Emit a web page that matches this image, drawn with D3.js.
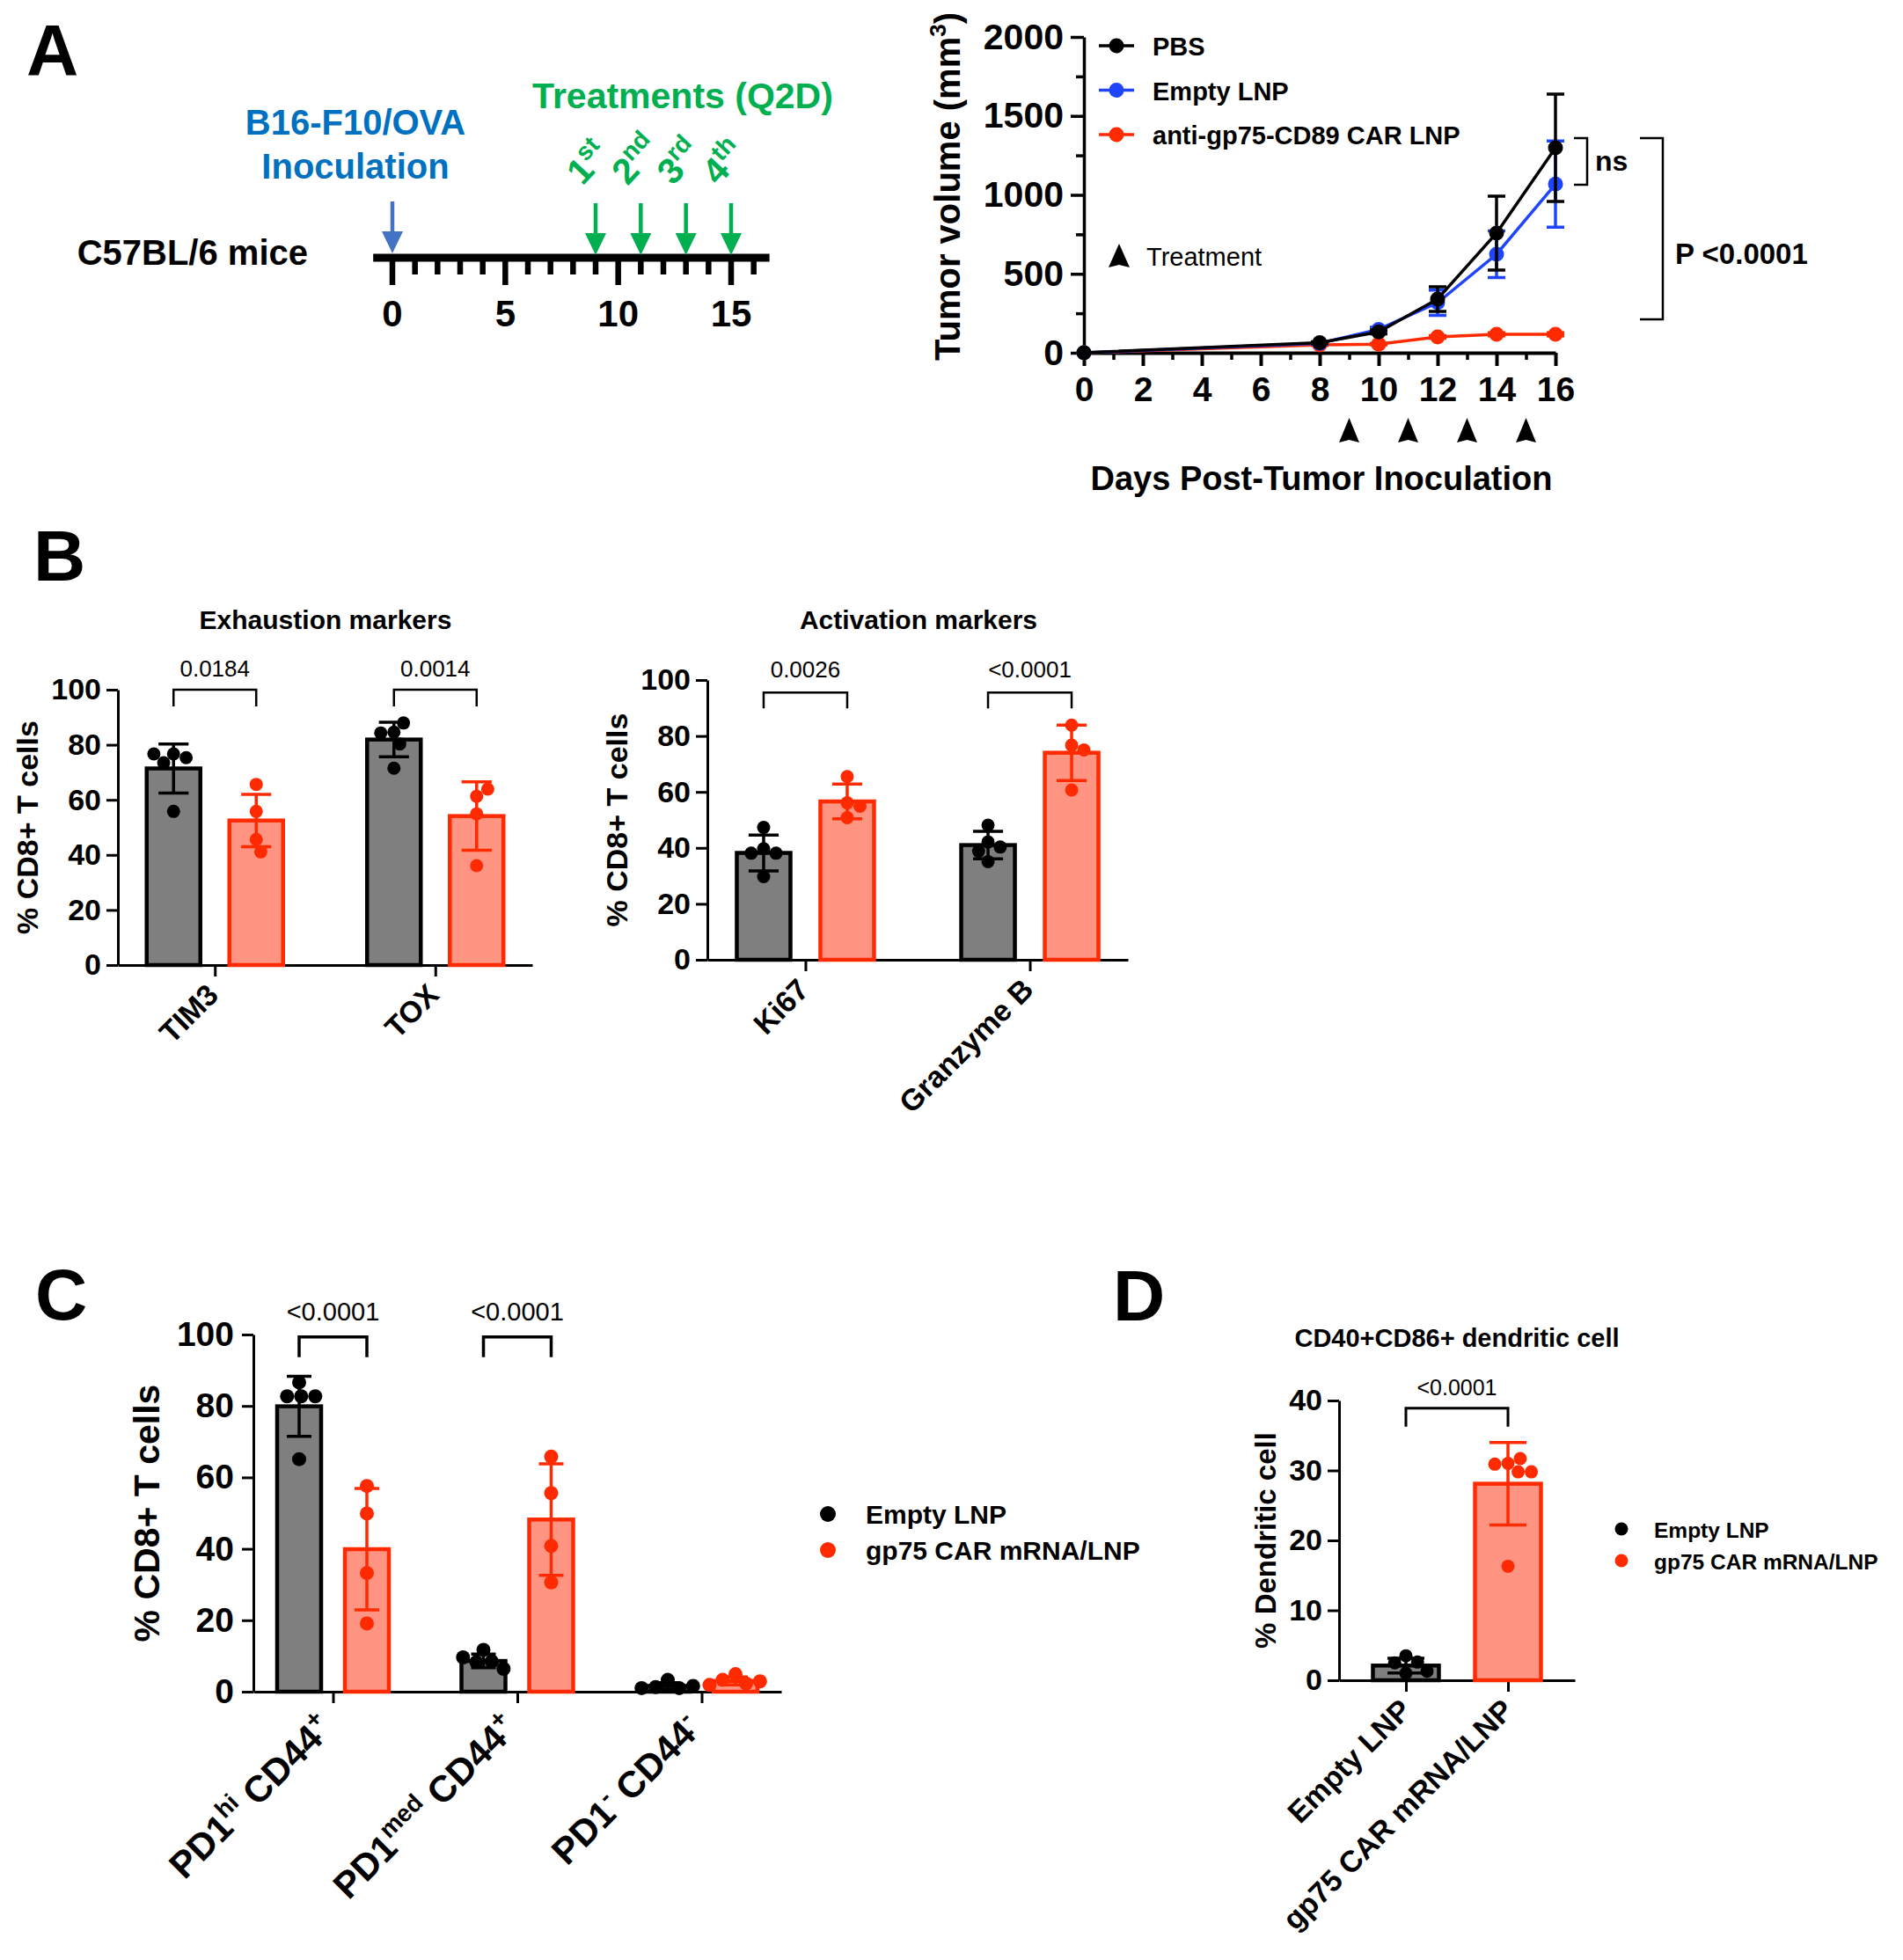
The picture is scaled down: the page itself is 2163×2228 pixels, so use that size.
<!DOCTYPE html>
<html>
<head>
<meta charset="utf-8">
<script src="https://cdn.jsdelivr.net/npm/d3@7"></script>
<style>
  body { margin: 0; background: #fff; }
  svg { display: block; font-family: "Liberation Sans", Arial, Helvetica, sans-serif; }
</style>
</head>
<body>
<svg id="fig" width="2163" height="2228"></svg>
<script>
// ---------- data ----------
// A: timeline
const timelineTickDays = [0, 1, 2, 3, 4, 5, 6, 7, 8, 9, 10, 11, 12, 13, 14, 15, 16];
const timelineLabelDays = [0, 5, 10, 15];
const inoculationDay = 0;
const treatmentDays = [9, 11, 13, 15];
const treatmentOrdinals = [["1", "st"], ["2", "nd"], ["3", "rd"], ["4", "th"]];

// A: tumour growth (mean +/- error)
const growthDays = [0, 8, 10, 12, 14, 16];
const pbsMean = [0, 64, 132, 340, 758, 1298];
const pbsErr = [0, 6, 12, 78, 234, 340];
const emptyMean = [0, 60, 148, 317, 624, 1068];
const emptyErr = [0, 6, 14, 80, 148, 273];
const carMean = [0, 50, 55, 100, 117, 117];
const carErr = [0, 4, 5, 8, 10, 10];
const growthYTicks = [0, 500, 1000, 1500, 2000];
const growthYMinor = [250, 750, 1250, 1750];
const growthXTicks = [0, 2, 4, 6, 8, 10, 12, 14, 16];
const growthXMinor = [1, 3, 5, 7, 9, 11, 13, 15];

// B: exhaustion markers
const exhaustionMarkers = ["TIM3", "TOX"];
const exhaustionEmptyPts = [[76.7, 75.3, 73.5, 76.7, 55.8], [84.6, 87.9, 84.3, 80.3, 71.5]];
const exhaustionCarPts = [[65.6, 55.8, 45.6, 41.1], [61.3, 63.9, 54.9, 36.1]];
const exhaustionEmptyMean = [71.4, 81.9];
const exhaustionEmptySD = [8.9, 6.3];
const exhaustionCarMean = [52.5, 54.1];
const exhaustionCarSD = [9.5, 12.4];
const exhaustionP = ["0.0184", "0.0014"];

// B: activation markers
const activationMarkers = ["Ki67", "Granzyme B"];
const activationEmptyPts = [[39.7, 47.3, 38.1, 38.1, 29.7], [42.1, 48.1, 40.3, 38.8, 35.1]];
const activationCarPts = [[65.5, 56.1, 54.9, 50.8], [83.9, 76.7, 75.0, 60.7]];
const activationEmptyMean = [38.2, 41.0];
const activationEmptySD = [6.4, 4.9];
const activationCarMean = [56.6, 74.0];
const activationCarSD = [6.2, 9.9];
const activationP = ["0.0026", "<0.0001"];

// C: PD1 / CD44 subsets
const subsetNames = ["PD1hi CD44+", "PD1med CD44+", "PD1- CD44-"];
const subsetLabelParts = [
  [["PD1", 0], ["hi", 1], [" CD44", 0], ["+", 1]],
  [["PD1", 0], ["med", 1], [" CD44", 0], ["+", 1]],
  [["PD1", 0], ["-", 1], [" CD44", 0], ["-", 1]]
];
const subsetEmptyPts = [[86.6, 82.7, 82.7, 82.7, 65.1], [11.7, 8.5, 8.3, 9.6, 6.4], [3.3, 1.0, 1.3, 1.6, 1.0]];
const subsetCarPts = [[57.6, 49.9, 33.2, 19.1], [65.8, 55.6, 40.8, 30.6], [4.9, 2.3, 3.3, 2.9, 1.9]];
const subsetEmptyMean = [79.9, 8.6, 1.6];
const subsetEmptySD = [8.4, 1.9, 0.9];
const subsetCarMean = [39.9, 48.2, 3.0];
const subsetCarSD = [17.0, 15.6, 1.1];
const subsetP = ["<0.0001", "<0.0001"];

// D: dendritic cells
const dcGroups = ["Empty LNP", "gp75 CAR mRNA/LNP"];
const dcPts = [[3.5, 2.6, 1.0, 2.5, 1.3], [31.0, 31.7, 30.9, 29.8, 29.8, 16.3]];
const dcMean = [2.1, 28.1];
const dcSD = [1.05, 5.9];
const dcP = "<0.0001";

const legendNames = ["Empty LNP", "gp75 CAR mRNA/LNP"];

// ---------- styles ----------
const FONT = '"Liberation Sans", Arial, Helvetica, sans-serif';
const grayFill = "#7f7f7f", red = "#ff2a00", salmon = "#ff9482", blue = "#1f45fc";
const inocBlue = "#0070c0", arrowBlue = "#4472c4", green = "#00b050";
const styles = {
  empty: { fill: grayFill, stroke: "#000", dot: "#000" },
  car: { fill: salmon, stroke: red, dot: red }
};

const svg = d3.select("#fig");
svg.append("rect").attr("width", 2163).attr("height", 2228).attr("fill", "#fff");

function label(g, x, y, text, size, opts = {}) {
  return g.append("text").attr("x", x).attr("y", y)
    .attr("font-size", size).attr("font-weight", opts.weight || "bold")
    .attr("fill", opts.fill || "#000").attr("text-anchor", opts.anchor || "start")
    .text(text);
}

function styleAxis(sel, size, width) {
  sel.attr("font-family", FONT).attr("font-size", size).attr("font-weight", "bold");
  sel.select(".domain").attr("stroke-width", width).attr("stroke", "#000");
  sel.selectAll(".tick line").attr("stroke-width", width).attr("stroke", "#000");
  sel.selectAll(".tick text").attr("fill", "#000");
}

// simple beeswarm so overlapping points spread sideways
function swarm(vals, y, r) {
  const placed = [];
  return vals.map(v => {
    const py = y(v);
    const cands = [0];
    placed.forEach(p => {
      const dy = Math.abs(p.y - py);
      if (dy < 2 * r) {
        const dx = Math.sqrt(4 * r * r - dy * dy);
        cands.push(p.x + dx, p.x - dx);
      }
    });
    cands.sort((a, b) => Math.abs(a) - Math.abs(b));
    const x = cands.find(c => placed.every(p => Math.hypot(p.x - c, p.y - py) >= 2 * r - 0.01));
    placed.push({ x, y: py });
    return { x, y: py };
  });
}

// ---------- panel letters ----------
label(svg, 30, 85, "A", 82);
label(svg, 38, 660, "B", 82);
label(svg, 40, 1500, "C", 82);
label(svg, 1265, 1501, "D", 82);

// ---------- A: timeline ----------
const gT = svg.append("g");
const tl = d3.scaleLinear().domain([0, 15]).range([446, 831]);

gT.append("line").attr("x1", tl(-0.85)).attr("x2", tl(16.7)).attr("y1", 293).attr("y2", 293)
  .attr("stroke", "#000").attr("stroke-width", 9);
gT.selectAll(".tick").data(timelineTickDays).join("line")
  .attr("x1", d => tl(d)).attr("x2", d => tl(d))
  .attr("y1", 293).attr("y2", d => timelineLabelDays.includes(d) ? 324 : 312)
  .attr("stroke", "#000").attr("stroke-width", 6.5);
gT.selectAll(".lab").data(timelineLabelDays).join("text")
  .attr("x", d => tl(d)).attr("y", 371).attr("text-anchor", "middle")
  .attr("font-size", 42).attr("font-weight", "bold").text(d => d);

label(gT, 350, 301, "C57BL/6 mice", 40, { anchor: "end" });
label(gT, 404, 153, "B16-F10/OVA", 40, { anchor: "middle", fill: inocBlue });
label(gT, 404, 203, "Inoculation", 40, { anchor: "middle", fill: inocBlue });
label(gT, 776, 123, "Treatments (Q2D)", 41, { anchor: "middle", fill: green });

function downArrow(g, x, yTop, yTip, color) {
  g.append("line").attr("x1", x).attr("x2", x).attr("y1", yTop).attr("y2", yTip - 20)
    .attr("stroke", color).attr("stroke-width", 4.5);
  g.append("path").attr("d", `M${x - 12},${yTip - 25}L${x + 12},${yTip - 25}L${x},${yTip}Z`).attr("fill", color);
}
downArrow(gT, tl(inoculationDay), 229, 288, arrowBlue);
treatmentDays.forEach((d, i) => {
  downArrow(gT, tl(d), 231, 290, green);
  const t = gT.append("text").attr("transform", `translate(${tl(d) - 15},212) rotate(-47)`)
    .attr("font-size", 41).attr("font-weight", "bold").attr("fill", green);
  t.append("tspan").text(treatmentOrdinals[i][0]);
  t.append("tspan").attr("font-size", 28).attr("dy", -16).text(treatmentOrdinals[i][1]);
});

// ---------- A: tumour growth ----------
const gG = svg.append("g");
const xG = d3.scaleLinear().domain([0, 16]).range([1232, 1768]);
const yG = d3.scaleLinear().domain([0, 2000]).range([401, 42]);

const yMinor = gG.append("g").attr("transform", `translate(${xG(0)},0)`)
  .call(d3.axisLeft(yG).tickValues(growthYMinor).tickSize(9).tickFormat("").tickSizeOuter(0));
yMinor.select(".domain").remove();
styleAxis(yMinor, 41, 3.5);
const yMajor = gG.append("g").attr("transform", `translate(${xG(0)},0)`)
  .call(d3.axisLeft(yG).tickValues(growthYTicks).tickFormat(d3.format("d"))
    .tickSize(15).tickPadding(8).tickSizeOuter(0));
styleAxis(yMajor, 41, 3.5);

const xMinor = gG.append("g").attr("transform", `translate(0,${yG(0)})`)
  .call(d3.axisBottom(xG).tickValues(growthXMinor).tickSize(8).tickFormat("").tickSizeOuter(0));
xMinor.select(".domain").remove();
styleAxis(xMinor, 39, 3.5);
const xMajor = gG.append("g").attr("transform", `translate(0,${yG(0)})`)
  .call(d3.axisBottom(xG).tickValues(growthXTicks).tickSize(15).tickPadding(12).tickSizeOuter(0));
styleAxis(xMajor, 39, 4);

const growthSeries = [
  { name: "anti-gp75-CD89 CAR LNP", mean: carMean, err: carErr, color: red },
  { name: "Empty LNP", mean: emptyMean, err: emptyErr, color: blue },
  { name: "PBS", mean: pbsMean, err: pbsErr, color: "#000" }
];
const line = d3.line().x((d, i) => xG(growthDays[i])).y(d => yG(d));
growthSeries.forEach(s => {
  growthDays.forEach((day, i) => {
    if (s.err[i] <= 0) return;
    const cx = xG(day), hi = yG(s.mean[i] + s.err[i]), lo = yG(Math.max(0, s.mean[i] - s.err[i]));
    gG.append("path").attr("d", `M${cx},${hi}V${lo}M${cx - 10},${hi}H${cx + 10}M${cx - 10},${lo}H${cx + 10}`)
      .attr("stroke", s.color).attr("stroke-width", 3.5).attr("fill", "none");
  });
  gG.append("path").datum(s.mean).attr("d", line).attr("fill", "none")
    .attr("stroke", s.color).attr("stroke-width", 3.5);
  gG.selectAll(null).data(s.mean).join("circle")
    .attr("cx", (d, i) => xG(growthDays[i])).attr("cy", d => yG(d)).attr("r", 8.5).attr("fill", s.color);
});

// legend (PBS on top)
growthSeries.slice().reverse().forEach((s, i) => {
  const ly = 52 + i * 50.5;
  gG.append("line").attr("x1", 1249).attr("x2", 1289).attr("y1", ly).attr("y2", ly)
    .attr("stroke", s.color).attr("stroke-width", 3.5);
  gG.append("circle").attr("cx", 1269).attr("cy", ly).attr("r", 8.5).attr("fill", s.color);
  label(gG, 1310, ly + 11, s.name, 29);
});
gG.append("path").attr("d", "M1272,277L1284,304L1272,301L1260,304Z").attr("fill", "#000");
label(gG, 1303, 302, "Treatment", 29, { weight: "normal" });

treatmentDays.forEach(d => {
  const x = xG(d);
  gG.append("path").attr("d", `M${x},475L${x + 11.5},503L${x},500L${x - 11.5},503Z`).attr("fill", "#000");
});

gG.append("text").attr("transform", `translate(1077,212) rotate(-90)`).attr("text-anchor", "middle")
  .attr("dy", "0.36em").attr("font-size", 40).attr("font-weight", "bold")
  .call(t => {
    t.append("tspan").text("Tumor volume (mm");
    t.append("tspan").attr("font-size", 26).attr("dy", -16).text("3");
    t.append("tspan").attr("dy", 16).text(")");
  });
label(gG, 1502, 557, "Days Post-Tumor Inoculation", 38, { anchor: "middle" });

// significance brackets
gG.append("path").attr("d", `M1789,${yG(1360)}H1804V${yG(1064)}H1789`)
  .attr("fill", "none").attr("stroke", "#000").attr("stroke-width", 2.5);
label(gG, 1813, 194, "ns", 32);
gG.append("path").attr("d", `M1864,${yG(1360)}H1890V${yG(212)}H1864`)
  .attr("fill", "none").attr("stroke", "#000").attr("stroke-width", 2.5);
label(gG, 1904, 300, "P <0.0001", 33);

// ---------- bar charts ----------
function drawBars(p) {
  const g = svg.append("g");
  const x = d3.scalePoint().domain(p.categories).range(p.xRange).padding(p.pad);
  const y = d3.scaleLinear().domain([0, p.yMax]).range([p.y0, p.yTop]);

  const ya = g.append("g").attr("transform", `translate(${p.xRange[0]},0)`)
    .call(d3.axisLeft(y).tickValues(p.yTicks).tickSize(13).tickPadding(p.tickPad).tickSizeOuter(0));
  styleAxis(ya, p.tickFont, 3);
  const xa = g.append("g").attr("transform", `translate(0,${p.y0})`)
    .call(d3.axisBottom(x).tickSize(13).tickFormat("").tickSizeOuter(0));
  styleAxis(xa, p.tickFont, 3);

  const pos = it => x(it.cat) + it.off;

  p.items.forEach(it => {
    const cx = pos(it);
    g.append("rect").attr("x", cx - p.barW / 2).attr("y", y(it.mean))
      .attr("width", p.barW).attr("height", p.y0 - y(it.mean))
      .attr("fill", it.style.fill).attr("stroke", it.style.stroke).attr("stroke-width", 4.5);
    const hi = y(it.mean + it.sd), lo = y(Math.max(0, it.mean - it.sd)), cw = p.barW * 0.28;
    g.append("path").attr("d", `M${cx},${hi}V${lo}M${cx - cw},${hi}H${cx + cw}M${cx - cw},${lo}H${cx + cw}`)
      .attr("stroke", it.style.stroke).attr("stroke-width", 3.5).attr("fill", "none");
    swarm(it.pts, y, p.r).forEach(pt => {
      g.append("circle").attr("cx", cx + pt.x).attr("cy", pt.y).attr("r", p.r).attr("fill", it.style.dot);
    });
  });

  p.brackets.forEach(b => {
    const xa1 = pos(p.items[b.a]), xb1 = pos(p.items[b.b]), by = y(p.bracketVal);
    g.append("path").attr("d", `M${xa1},${by + p.leg}V${by}H${xb1}V${by + p.leg}`)
      .attr("fill", "none").attr("stroke", "#000").attr("stroke-width", p.bracketW);
    label(g, (xa1 + xb1) / 2, by - p.pGap, b.text, p.pFont, { anchor: "middle", weight: "normal" });
  });

  g.append("text").attr("transform", `translate(${p.yTitleX},${(p.y0 + p.yTop) / 2}) rotate(-90)`)
    .attr("text-anchor", "middle").attr("dy", "0.36em")
    .attr("font-size", p.yTitleFont).attr("font-weight", "bold").text(p.yTitle);

  p.categories.forEach((c, i) => {
    const t = g.append("text")
      .attr("transform", `translate(${x(c) + p.labDx},${p.y0 + p.labDy}) rotate(-45)`)
      .attr("text-anchor", "end").attr("font-size", p.labFont).attr("font-weight", "bold");
    const parts = p.labelParts ? p.labelParts[i] : [[c, 0]];
    let raised = false;
    parts.forEach(([s, sup]) => {
      const ts = t.append("tspan").text(s);
      if (sup && !raised) { ts.attr("font-size", p.labFont * 0.66).attr("dy", -p.labFont * 0.4); raised = true; }
      else if (sup) { ts.attr("font-size", p.labFont * 0.66); }
      else if (raised) { ts.attr("dy", p.labFont * 0.4); raised = false; }
    });
  });
  return g;
}

function pairedItems(cats, ePts, eMean, eSD, cPts, cMean, cSD, off) {
  return cats.flatMap((c, i) => [
    { cat: c, off: -off, pts: ePts[i], mean: eMean[i], sd: eSD[i], style: styles.empty },
    { cat: c, off: off, pts: cPts[i], mean: cMean[i], sd: cSD[i], style: styles.car }
  ]);
}

// B left
drawBars({
  categories: exhaustionMarkers, xRange: [134, 605], pad: 0.44, y0: 1097, yTop: 784, yMax: 100,
  yTicks: [0, 20, 40, 60, 80, 100], tickFont: 34, tickPad: 6,
  items: pairedItems(exhaustionMarkers, exhaustionEmptyPts, exhaustionEmptyMean, exhaustionEmptySD,
    exhaustionCarPts, exhaustionCarMean, exhaustionCarSD, 47),
  brackets: exhaustionP.map((t, i) => ({ a: 2 * i, b: 2 * i + 1, text: t })),
  barW: 61, r: 7.5, bracketVal: 100, leg: 19, bracketW: 2.5, pGap: 15, pFont: 26,
  yTitle: "% CD8+ T cells", yTitleX: 31, yTitleFont: 34, labFont: 34, labDx: 6, labDy: 36
});
label(svg, 370, 715, "Exhaustion markers", 30, { anchor: "middle" });

// B right
drawBars({
  categories: activationMarkers, xRange: [804, 1282], pad: 0.437, y0: 1091, yTop: 773, yMax: 100,
  yTicks: [0, 20, 40, 60, 80, 100], tickFont: 34, tickPad: 6,
  items: pairedItems(activationMarkers, activationEmptyPts, activationEmptyMean, activationEmptySD,
    activationCarPts, activationCarMean, activationCarSD, 47.5),
  brackets: activationP.map((t, i) => ({ a: 2 * i, b: 2 * i + 1, text: t })),
  barW: 61, r: 7.5, bracketVal: 95.5, leg: 18, bracketW: 2.5, pGap: 17, pFont: 26,
  yTitle: "% CD8+ T cells", yTitleX: 701, yTitleFont: 34, labFont: 34, labDx: 6, labDy: 36
});
label(svg, 1044, 715, "Activation markers", 30, { anchor: "middle" });

// C
drawBars({
  categories: subsetNames, labelParts: subsetLabelParts, xRange: [288, 888], pad: 0.432,
  y0: 1923, yTop: 1517, yMax: 100, yTicks: [0, 20, 40, 60, 80, 100], tickFont: 39, tickPad: 9,
  items: pairedItems(subsetNames, subsetEmptyPts, subsetEmptyMean, subsetEmptySD,
    subsetCarPts, subsetCarMean, subsetCarSD, 38.5),
  brackets: subsetP.map((t, i) => ({ a: 2 * i, b: 2 * i + 1, text: t })),
  barW: 50, r: 8, bracketVal: 99.3, leg: 23, bracketW: 3.5, pGap: 19, pFont: 29,
  yTitle: "% CD8+ T cells", yTitleX: 166, yTitleFont: 41, labFont: 42, labDx: 2, labDy: 44
});
legendNames.forEach((n, i) => {
  svg.append("circle").attr("cx", 941).attr("cy", 1721 + i * 41).attr("r", 9)
    .attr("fill", i ? red : "#000");
  label(svg, 984, 1732 + i * 41, n, 30);
});

// D
drawBars({
  categories: dcGroups, xRange: [1522, 1790], pad: 0.655, y0: 1910, yTop: 1592, yMax: 40,
  yTicks: [0, 10, 20, 30, 40], tickFont: 34, tickPad: 6,
  items: [
    { cat: dcGroups[0], off: 0, pts: dcPts[0], mean: dcMean[0], sd: dcSD[0], style: styles.empty },
    { cat: dcGroups[1], off: 0, pts: dcPts[1], mean: dcMean[1], sd: dcSD[1], style: styles.car }
  ],
  brackets: [{ a: 0, b: 1, text: dcP }],
  barW: 75, r: 7.5, bracketVal: 38.9, leg: 21, bracketW: 3, pGap: 15, pFont: 25,
  yTitle: "% Dendritic cell", yTitleX: 1438, yTitleFont: 33, labFont: 34, labDx: 8, labDy: 36
});
label(svg, 1656, 1531, "CD40+CD86+ dendritic cell", 29, { anchor: "middle" });
legendNames.forEach((n, i) => {
  svg.append("circle").attr("cx", 1843).attr("cy", 1738 + i * 36).attr("r", 7.5)
    .attr("fill", i ? red : "#000");
  label(svg, 1880, 1748 + i * 36, n, 24.5);
});
</script>
</body>
</html>
